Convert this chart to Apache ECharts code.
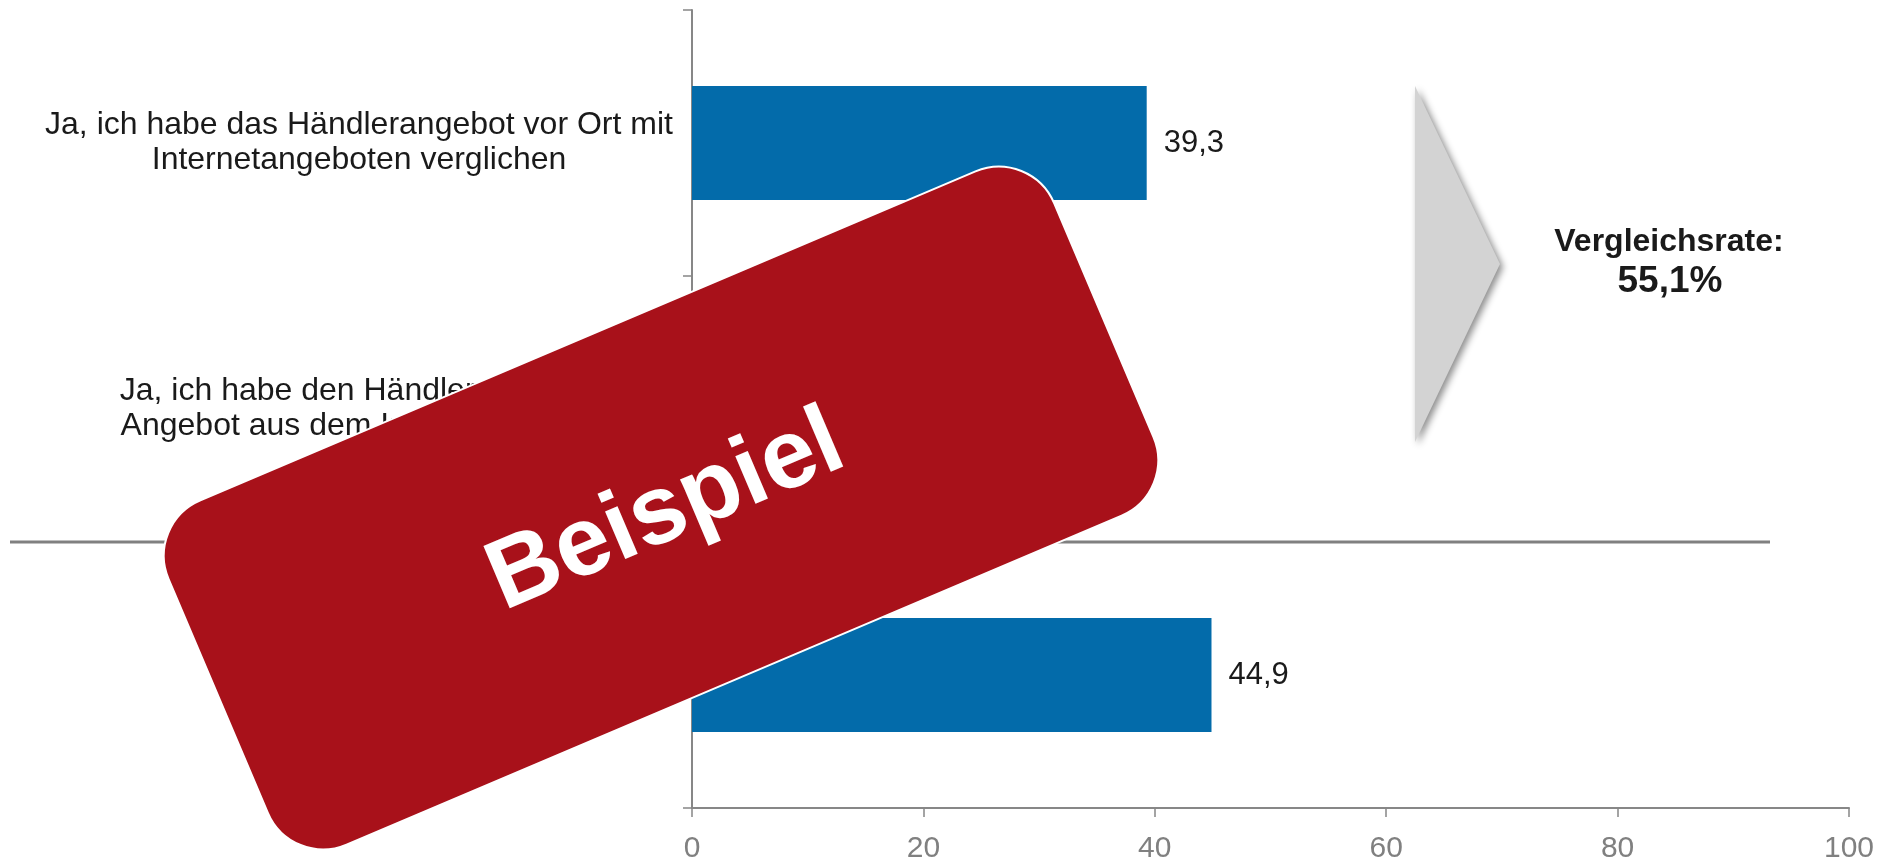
<!DOCTYPE html>
<html>
<head>
<meta charset="utf-8">
<script src="https://cdn.jsdelivr.net/npm/echarts@6/dist/echarts.min.js"></script>
<style>
html,body{margin:0;padding:0;background:#fff;}
#chart{width:1897px;height:863px;}
</style>
</head>
<body>
<div id="chart"></div>
<script>
var categories = [
  "Ja, ich habe das Händlerangebot vor Ort mit\nInternetangeboten verglichen",
  "Ja, ich habe den Händler mit dem\nAngebot aus dem Internet gefragt",
  "Nein"
];
var values = [39.3, 15.8, 44.9];
var xTicks = [0, 20, 40, 60, 80, 100];
var rateLabel = "Vergleichsrate:";
var stampText = "Beispiel";

var FONT = "'Liberation Sans', Arial, sans-serif";
var fmt = function (v) { return String(v.toFixed(1)).replace('.', ','); };
var rate = fmt(values[0] + values[1]) + "%";

var chart = echarts.init(document.getElementById('chart'), null, {renderer: 'canvas'});
var option = {
  animation: false,
  backgroundColor: '#ffffff',
  grid: {left: 692, right: 48, top: 10, bottom: 55, containLabel: false, outerBoundsMode: 'none'},
  xAxis: {
    type: 'value',
    min: xTicks[0],
    max: xTicks[xTicks.length - 1],
    interval: xTicks[1] - xTicks[0],
    axisLine: {show: true, lineStyle: {color: '#878787', width: 2}},
    axisTick: {show: true, length: 9, lineStyle: {color: '#878787', width: 1.5}},
    axisLabel: {color: '#808080', fontSize: 30, margin: 26, fontFamily: FONT},
    splitLine: {show: false}
  },
  yAxis: {
    type: 'category',
    inverse: true,
    data: categories,
    axisLine: {show: true, lineStyle: {color: '#878787', width: 2}},
    axisTick: {show: true, length: 9, lineStyle: {color: '#878787', width: 1.5}},
    axisLabel: {
      align: 'center', margin: 333, color: '#1a1a1a',
      fontSize: 32, lineHeight: 35, fontFamily: FONT,
      padding: [4, 0, 0, 0]
    },
    splitLine: {show: false}
  },
  series: [{
    type: 'bar',
    data: values,
    barWidth: 114,
    itemStyle: {color: '#036BAA'},
    label: {
      show: true, position: 'right', distance: 17,
      color: '#1a1a1a', fontSize: 31, fontFamily: FONT,
      formatter: function (p) { return fmt(p.value); }
    }
  }]
};
chart.setOption(option);

var y1 = chart.convertToPixel({yAxisIndex: 0}, 1);
var y2 = chart.convertToPixel({yAxisIndex: 0}, 2);
var sepY = Math.round((y1 + y2) / 2);

chart.setOption({
  graphic: [
    {
      type: 'line', z: 50,
      shape: {x1: 10, y1: sepY, x2: 1770, y2: sepY},
      style: {stroke: '#808080', lineWidth: 3}
    },
    {
      type: 'polygon', z: 50,
      shape: {points: [[1415, 86], [1500, 264], [1415, 442]]},
      style: {
        fill: '#d3d3d3',
        shadowBlur: 7, shadowOffsetX: 3, shadowOffsetY: 3,
        shadowColor: 'rgba(0,0,0,0.45)'
      }
    },
    {
      type: 'text', z: 50,
      style: {
        text: rateLabel, x: 1669, y: 242, textAlign: 'center', textVerticalAlign: 'middle',
        font: 'bold 32px ' + FONT, fill: '#1a1a1a'
      }
    },
    {
      type: 'text', z: 50,
      style: {
        text: rate, x: 1670, y: 282, textAlign: 'center', textVerticalAlign: 'middle',
        font: 'bold 37px ' + FONT, fill: '#1a1a1a'
      }
    },
    {
      type: 'group', z: 100,
      x: 661, y: 508,
      rotation: 23 * Math.PI / 180,
      children: [
        {
          type: 'rect', z: 100,
          shape: {x: -481, y: -187, width: 962, height: 374, r: 60},
          style: {fill: '#A8111A', stroke: '#ffffff', lineWidth: 2}
        },
        {
          type: 'text', z: 101,
          style: {
            text: stampText, x: 3, y: 6, textAlign: 'center', textVerticalAlign: 'middle',
            font: 'bold 98px ' + FONT, fill: '#ffffff'
          }
        }
      ]
    }
  ]
});
</script>
</body>
</html>
